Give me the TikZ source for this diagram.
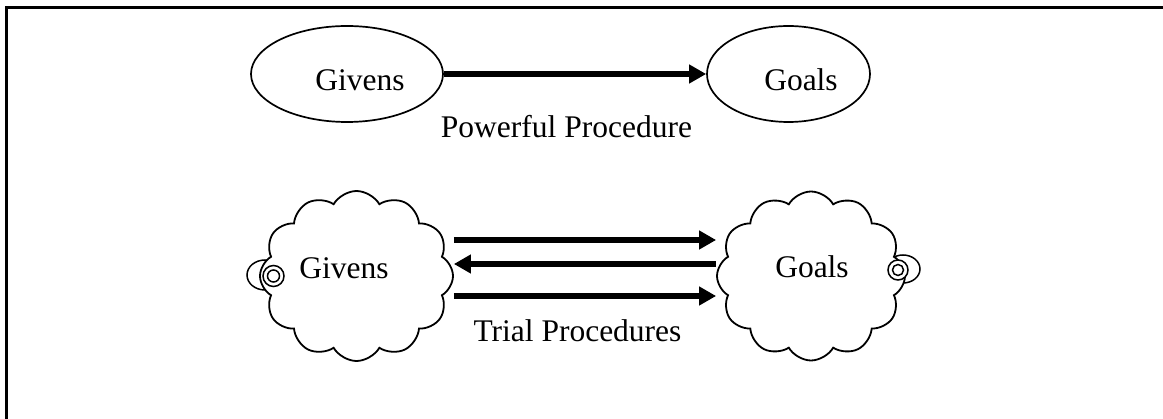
\documentclass[tikz,border=0pt]{standalone}
\usepackage{fontspec}
\setmainfont{Liberation Serif}
\usetikzlibrary{shapes.geometric,shapes.symbols,arrows.meta,calc}
\begin{document}
\begin{tikzpicture}[x=1pt,y=-1pt,
  lbl/.style={font=\fontsize{31.5}{36}\selectfont, inner sep=0, anchor=base},
  oval/.style={draw, ellipse, line width=1.7pt, inner sep=0},
  puff/.style={draw, cloud, cloud puffs=12, cloud puff arc=120, cloud ignores aspect, line width=1.8pt, fill=white, inner sep=0},
  bigarrow/.style={line width=6.5pt, -{Triangle[length=17pt,width=18pt]}},
  tailoval/.style={draw, ellipse, line width=1.5pt, inner sep=0, fill=white},
  ring/.style={draw, circle, line width=1.5pt, fill=white, inner sep=0}
]
\useasboundingbox (0,0) rectangle (1163,419);
\draw[line width=3pt] (6,419) -- (6,8) -- (1163,8);

% top row
\node[oval, minimum width=192pt, minimum height=96pt] (g1) at (347,74) {};
\node[oval, minimum width=163pt, minimum height=96pt] (o1) at (788.5,74) {};
\node[lbl] (g1t) at (360,91) {Givens};
\node[lbl] (o1t) at (801,91) {Goals};
\draw[bigarrow] (g1.east) -- (o1.west);
\node[lbl] (p1) at (566.5,138) {Powerful Procedure};

% bottom row: Givens cloud
\node[tailoval, minimum width=36pt, minimum height=30pt] (gt1) at (265,275) {};
\node[puff, minimum width=193pt, minimum height=170pt] (gc) at (356.5,276) {};
\node[ring, minimum size=21pt] (gt2) at (273.5,276) {};
\node[ring, minimum size=12pt] (gt3) at (273.5,276) {};
\node[lbl] (gct) at (344,279) {Givens};

% bottom row: Goals cloud
\node[tailoval, minimum width=34pt, minimum height=28pt] (ot1) at (903,269) {};
\node[puff, minimum width=188pt, minimum height=169pt] (oc) at (811,276) {};
\node[ring, minimum size=20pt] (ot2) at (898,270) {};
\node[ring, minimum size=11pt] (ot3) at (898,270) {};
\node[lbl] (oct) at (812,278) {Goals};

% trial arrows
\draw[bigarrow] ($(gc.east)+(0,-36)$) -- ($(oc.west)+(0,-36)$);
\draw[bigarrow] ($(oc.west)+(0,-12)$) -- ($(gc.east)+(0,-12)$);
\draw[bigarrow] ($(gc.east)+(0,20)$) -- ($(oc.west)+(0,20)$);
\node[lbl] (tp) at (577.5,342) {Trial Procedures};
\end{tikzpicture}
\end{document}
